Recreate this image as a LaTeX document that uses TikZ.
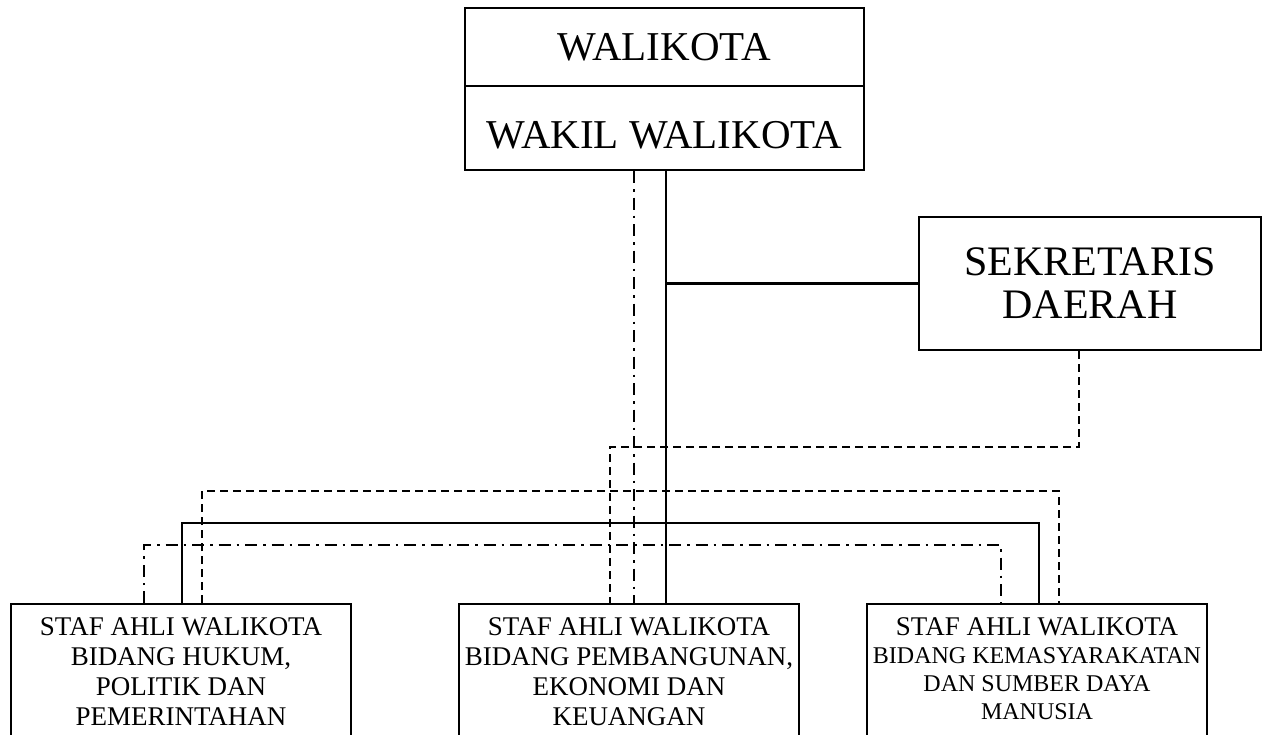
\documentclass[tikz,border=0pt]{standalone}
\usepackage{fontspec}
\setmainfont{Liberation Serif}
\newcommand{\stafbox}[2][27]{\parbox[c][150pt][t]{340pt}{\centering\fontsize{#1}{30}\selectfont\vspace*{13pt}#2}}

\begin{document}
\begin{tikzpicture}[x=1pt,y=-1pt,line width=2.4pt,
  box/.style={draw,inner sep=0pt},
  bigtext/.style={font=\fontsize{41}{43}\selectfont},
  dashline/.style={dash pattern=on 8pt off 5pt},
  dotline/.style={dash pattern=on 12pt off 6pt on 2.5pt off 6pt}]
\path[use as bounding box] (0,0) rectangle (1263,734);
\clip (0,0) rectangle (1263,734);
\node[box,bigtext,minimum width=399pt,minimum height=78pt] (walikota) at (664.5,47) {WALIKOTA};
\node[box,bigtext,minimum width=399pt,minimum height=84pt,text height=42pt] (wakil) at (664.5,128) {WAKIL WALIKOTA};
\node[box,font=\fontsize{42}{43}\selectfont,minimum width=342pt,minimum height=133pt,align=center] (sekda) at (1090,283.5) {SEKRETARIS\\DAERAH};
\node[box,anchor=north] (staf1) at (181,603) {\stafbox{STAF AHLI WALIKOTA\\BIDANG HUKUM,\\POLITIK DAN\\PEMERINTAHAN}};
\node[box,anchor=north] (staf2) at (629,603) {\stafbox{STAF AHLI WALIKOTA\\BIDANG PEMBANGUNAN,\\EKONOMI DAN\\KEUANGAN}};
\node[box,anchor=north] (staf3) at (1037,603) {\stafbox{STAF AHLI WALIKOTA\\\fontsize{24}{28}\selectfont BIDANG KEMASYARAKATAN\\DAN SUMBER DAYA\\MANUSIA}};
\coordinate (solidtop) at ([xshift=1.5pt]wakil.south);
\coordinate (dottop) at ([xshift=-30.5pt]wakil.south);
\draw (solidtop) -- (solidtop |- staf2.north);
\draw (solidtop |- sekda.west) -- (sekda.west);
\draw[dotline] (dottop) -- (dottop |- staf2.north);
\draw[dashline] ([xshift=-11pt]sekda.south) -- ++(0,96) -| ([xshift=-19pt]staf2.north);
\draw ([xshift=1pt]staf1.north) -- ++(0,-80) -| ([xshift=2pt]staf3.north);
\draw[dashline] ([xshift=21pt]staf1.north) -- ++(0,-112) -| ([xshift=22pt]staf3.north);
\draw[dotline] ([xshift=-37pt]staf1.north) -- ++(0,-58) -| ([xshift=-36pt]staf3.north);
\end{tikzpicture}
\end{document}
